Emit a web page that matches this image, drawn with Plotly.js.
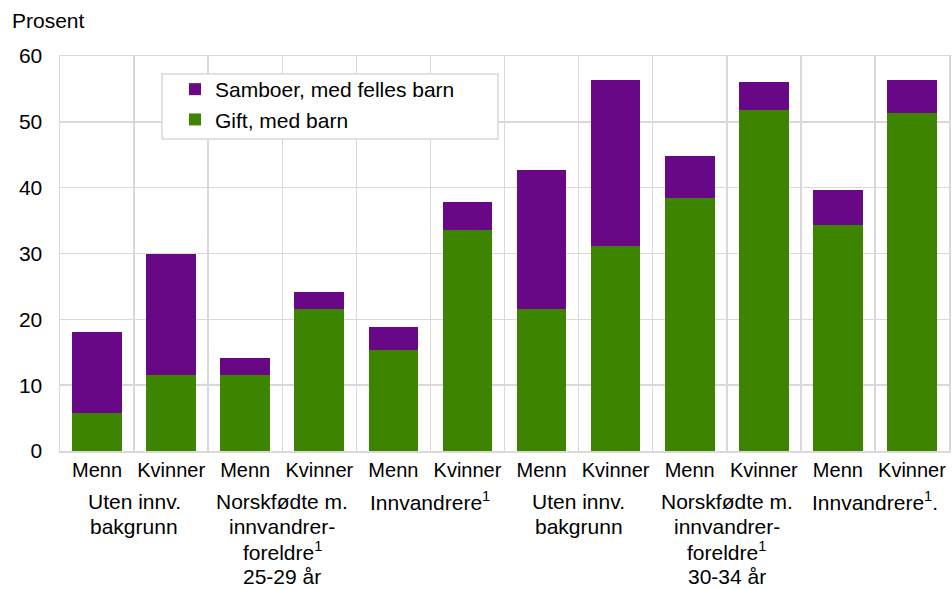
<!DOCTYPE html>
<html>
<head>
<meta charset="utf-8">
<script src="https://cdn.plot.ly/plotly-3.0.1.min.js"></script>
<style>html,body{margin:0;padding:0;background:#fff;}#chart{width:952px;height:589px;}</style>
</head>
<body>
<div id="chart"></div>
<script>
// ---- data ----
var categories = ["M1", "K1", "M2", "K2", "M3", "K3", "M4", "K4", "M5", "K5", "M6", "K6"];
var sexLabels = ["Menn", "Kvinner", "Menn", "Kvinner", "Menn", "Kvinner", "Menn", "Kvinner", "Menn", "Kvinner", "Menn", "Kvinner"];
var groupLabels = ["Uten innv.<br>bakgrunn", "Norskfødte m.<br>innvandrer-<br>foreldre<sup>1</sup>", "Innvandrere<sup>1</sup>",
                   "Uten innv.<br>bakgrunn", "Norskfødte m.<br>innvandrer-<br>foreldre<sup>1</sup>", "Innvandrere<sup>1</sup>."];
var ageLabels = ["25-29 år", "30-34 år"];
var giftMedBarn = [5.7, 11.5, 11.5, 21.5, 15.4, 33.6, 21.5, 31.2, 38.4, 51.8, 34.3, 51.3];
var samboerMedFellesBarn = [12.4, 18.5, 2.6, 2.7, 3.4, 4.2, 21.2, 25.2, 6.4, 4.3, 5.3, 5.1];
var yTicks = [0, 10, 20, 30, 40, 50, 60];

var FONT = "Liberation Sans, Arial, sans-serif";
var FS = 21;
var PLOT_LEFT = 60, PLOT_W = 889, PLOT_BOTTOM = 451, PLOT_H = 395;
function py(p) { return (PLOT_BOTTOM - p) / PLOT_H; }
function px(p) { return (p - PLOT_LEFT) / PLOT_W; }

var traces = [
  {type: "bar", name: "Gift, med barn", x: categories, y: giftMedBarn,
   marker: {color: "#3d8400"}, legendrank: 2, hoverinfo: "y"},
  {type: "bar", name: "Samboer, med felles barn", x: categories, y: samboerMedFellesBarn,
   marker: {color: "#690887"}, legendrank: 1, hoverinfo: "y"}
];

var annotations = [];
groupLabels.forEach(function (g, i) {
  g.split("<br>").forEach(function (line, j) {
    annotations.push({xref: "x", yref: "paper", x: i * 2 + 0.5, y: py(501 + 25 * j), yanchor: "middle",
      xanchor: "center", text: line, showarrow: false, align: "center",
      font: {family: FONT, size: FS, color: "#000"}});
  });
});
ageLabels.forEach(function (a, i) {
  annotations.push({xref: "x", yref: "paper", x: i * 6 + 2.5, y: py(576), yanchor: "middle",
    xanchor: "center", text: a, showarrow: false,
    font: {family: FONT, size: FS, color: "#000"}});
});

var layout = {
  width: 952, height: 589,
  margin: {l: 60, r: 3, t: 56, b: 138},
  paper_bgcolor: "#fff", plot_bgcolor: "#fff",
  font: {family: FONT, size: FS, color: "#000"},
  barmode: "stack", bargap: 0.33,
  showlegend: true,
  title: {text: "Prosent", x: 12 / 952, xanchor: "left", y: 1 - 21 / 589, yanchor: "middle",
    font: {family: FONT, size: FS, color: "#000"}},
  legend: {x: px(162), y: py(69), xanchor: "left", yanchor: "top",
    borderwidth: 0, bgcolor: "rgba(0,0,0,0)",
    traceorder: "normal", tracegroupgap: 0, indentation: 13,
    font: {family: FONT, size: FS, color: "#000"}},
  shapes: [{type: "rect", xref: "paper", yref: "paper", layer: "above",
    x0: px(162), x1: px(498), y0: py(139), y1: py(74),
    fillcolor: "#fff", line: {color: "#d9d9d9", width: 1.5}}],
  xaxis: {type: "category", categoryorder: "array", categoryarray: categories,
    tickvals: categories, ticktext: sexLabels, tickson: "boundaries", tickangle: 0,
    showgrid: true, gridcolor: "#d9d9d9", gridwidth: 1.5,
    showline: true, linecolor: "#d9d9d9", linewidth: 1.5, mirror: true,
    ticks: "outside", ticklen: 6, tickcolor: "rgba(0,0,0,0)", zeroline: false,
    tickfont: {family: FONT, size: 20, color: "#000"}},
  yaxis: {range: [0, 60], tickvals: yTicks, showgrid: true, gridcolor: "#d9d9d9", gridwidth: 1.5,
    showline: true, linecolor: "#d9d9d9", linewidth: 1.5, mirror: true, zeroline: false,
    ticks: "outside", ticklen: 12, tickcolor: "rgba(0,0,0,0)",
    tickfont: {family: FONT, size: FS, color: "#000"}},
  annotations: annotations
};

Plotly.newPlot("chart", traces, layout, {displayModeBar: false, staticPlot: true});
</script>
</body>
</html>
